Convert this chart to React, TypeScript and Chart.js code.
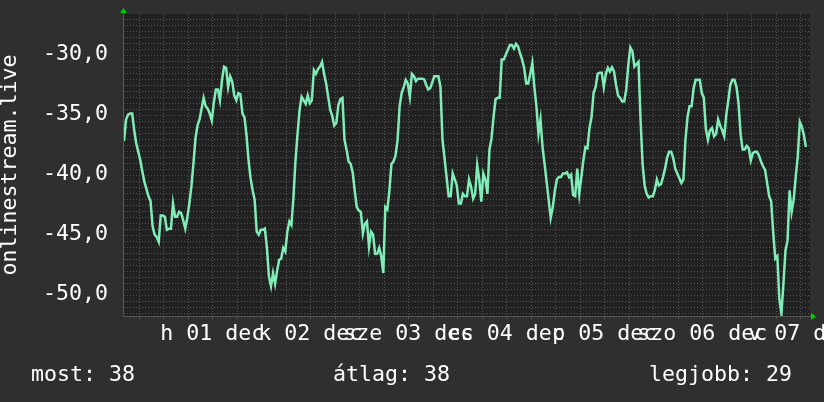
import React, { useEffect, useRef } from 'react';
import { Chart, registerables } from 'chart.js';

Chart.register(...registerables);

// ---- data ----
const SERIES_NAME = 'onlinestream.live';
const SPAN_HOURS = 168; // 7 days shown
const STEP_HOURS = 0.5; // sampling step of the values
const HOURS_TO_FIRST_MIDNIGHT = 9.6; // from left edge to 00:00 of 01 dec
const Y_MIN = -51.78;
const Y_MAX = -26.61;

const dayLabels = ['h 01 dec', 'k 02 dec', 'sze 03 dec', 'cs 04 dec', 'p 05 dec', 'szo 06 dec', 'v 07 dec'];

const legendTexts = ['most: 38', 'átlag: 38', 'legjobb: 29'];

// half-hourly values
const day1 = [
  -37.2, -35.4, -35.0, -34.9, -34.9, -36.3, -37.4, -38.1, -38.8, -39.75, -40.6, -41.2,
  -41.8, -42.2, -44.3, -45.0, -45.2, -45.6, -43.4, -43.4, -43.5, -44.6, -44.5, -44.5,
  -42.4, -43.5, -43.5, -43.1, -43.2, -43.8, -44.5, -43.6, -42.4, -41.0, -39.1, -37.0,
  -35.9, -35.4, -34.5, -33.6, -34.3, -34.5, -34.9, -35.5, -34.0, -32.9, -32.9, -33.8,
];
const day2 = [
  -32.1, -31.0, -31.1, -32.7, -31.8, -32.25, -33.4, -33.8, -33.2, -33.3, -34.9, -35.2,
  -36.7, -38.8, -40.3, -41.3, -42.1, -44.75, -45.0, -44.6, -44.6, -44.5, -46.1, -48.5,
  -49.3, -48.2, -49.1, -48.0, -47.1, -47.0, -46.1, -46.4, -44.75, -43.9, -44.2, -41.9,
  -38.8, -36.6, -34.6, -33.5, -33.8, -34.1, -33.4, -34.05, -33.8, -31.3, -31.6, -31.2,
];
const day3 = [
  -31.0, -30.6, -31.6, -32.4, -33.5, -34.6, -35.1, -35.9, -35.7, -34.2, -33.7, -33.6,
  -37.1, -37.9, -38.9, -39.1, -39.8, -41.3, -42.7, -43.0, -43.1, -44.9, -44.1, -43.9,
  -46.0, -44.75, -45.0, -46.6, -46.6, -46.1, -46.8, -48.2, -42.7, -42.9, -41.3, -39.1,
  -38.9, -38.4, -37.1, -34.3, -33.2, -32.7, -32.1, -32.4, -33.5, -31.6, -31.8, -32.2,
];
const day4 = [
  -32.0, -32.0, -32.0, -32.05, -32.5, -32.9, -32.8, -32.3, -31.8, -31.8, -31.8, -32.7,
  -37.1, -38.6, -40.2, -41.8, -41.8, -39.9, -40.4, -40.9, -42.4, -42.4, -41.6, -41.8,
  -41.8, -40.4, -41.0, -42.0, -41.6, -39.2, -40.4, -42.25, -39.9, -40.4, -41.6, -37.9,
  -37.0, -35.2, -33.7, -33.6, -33.6, -30.4, -30.4, -30.0, -29.6, -29.2, -29.2, -29.5,
];
const day5 = [
  -29.1, -29.3, -29.9, -30.4, -31.1, -32.4, -32.4, -31.6, -30.7, -32.7, -34.3, -36.6,
  -35.4, -37.7, -39.1, -40.6, -42.1, -43.6, -42.7, -41.4, -40.4, -40.2, -40.2, -39.9,
  -39.9, -39.8, -40.2, -40.0, -41.7, -41.8, -39.5, -41.6, -40.2, -38.8, -37.7, -37.8,
  -36.1, -35.2, -33.2, -32.7, -31.6, -31.5, -31.5, -32.7, -31.6, -31.1, -31.4, -31.05,
];
const day6 = [
  -31.4, -32.5, -33.4, -33.6, -33.9, -33.9, -32.9, -30.9, -29.4, -29.7, -31.0, -30.8,
  -30.6, -35.4, -39.1, -40.9, -41.6, -41.9, -41.8, -41.8, -41.3, -40.4, -40.9, -40.8,
  -40.2, -39.5, -38.6, -38.1, -38.1, -38.6, -39.5, -39.9, -40.3, -40.7, -40.4, -37.1,
  -35.2, -34.3, -34.3, -32.8, -32.1, -32.1, -32.1, -33.2, -33.6, -36.2, -37.1, -36.3,
];
const day7 = [
  -36.1, -36.8, -36.6, -35.4, -35.9, -36.3, -36.8, -35.0, -33.8, -32.5, -32.1, -32.1,
  -32.7, -34.05, -36.6, -37.9, -37.9, -37.6, -37.8, -38.8, -38.2, -38.1, -38.1, -38.4,
  -38.9, -39.3, -39.6, -40.7, -41.8, -42.25, -44.9, -47.0, -46.8, -50.4, -51.6, -49.05,
  -46.3, -45.5, -41.3, -43.1, -42.1, -40.2, -38.5, -35.6, -36.0, -36.7, -37.7,
];

const values = [...day1, ...day2, ...day3, ...day4, ...day5, ...day6, ...day7];

// ---- style ----
const FONT = '"DejaVu Sans Mono", monospace';
const FONT_SIZE = 21.6;
const PAGE_BG = '#2f2f2f';
const PLOT_BG = '#212121';
const MINOR_GRID = '#555555';
const MAJOR_GRID = '#8a3434';
const LINE_COLOR = '#80ecb8';
const TEXT_COLOR = '#ffffff';
const ARROW_COLOR = '#00cc00';

const isMajorY = (v: number) => Math.abs(v / 5 - Math.round(v / 5)) < 1e-6;

const rrdPlugin = {
  id: 'rrdLook',
  beforeDraw(chart: any) {
    const { ctx, chartArea: a, width, height } = chart;
    const xs = chart.scales.x;
    const ys = chart.scales.y;
    ctx.save();
    ctx.fillStyle = PAGE_BG;
    ctx.fillRect(0, 0, width, height);
    ctx.fillStyle = PLOT_BG;
    ctx.fillRect(a.left, a.top, a.right - a.left, a.bottom - a.top);

    const hLine = (y: number, color: string) => {
      ctx.strokeStyle = color;
      ctx.beginPath();
      ctx.moveTo(a.left, y);
      ctx.lineTo(a.right, y);
      ctx.stroke();
    };
    const vLine = (x: number, color: string) => {
      ctx.strokeStyle = color;
      ctx.beginPath();
      ctx.moveTo(x, a.top);
      ctx.lineTo(x, a.bottom);
      ctx.stroke();
    };

    ctx.lineWidth = 1;
    ctx.setLineDash([1, 2]);
    const start = Math.ceil(Y_MIN * 2) / 2;
    // minor horizontal grid every 0.5
    for (let v = start; v <= Y_MAX; v += 0.5) {
      if (isMajorY(v)) continue;
      hLine(Math.round(ys.getPixelForValue(v)) + 0.5, MINOR_GRID);
    }
    // minor vertical grid every 6 hours
    for (let h = HOURS_TO_FIRST_MIDNIGHT - 6; h < SPAN_HOURS; h += 6) {
      if (h < 0) continue;
      const k = Math.round((h - HOURS_TO_FIRST_MIDNIGHT) / 6);
      if (k % 4 === 0) continue;
      vLine(Math.round(xs.getPixelForValue(h)) + 0.5, MINOR_GRID);
    }
    // major lines
    for (let v = start; v <= Y_MAX; v += 0.5) {
      if (!isMajorY(v)) continue;
      hLine(Math.round(ys.getPixelForValue(v)) + 0.5, MAJOR_GRID);
    }
    for (let h = HOURS_TO_FIRST_MIDNIGHT; h < SPAN_HOURS; h += 24) {
      vLine(Math.round(xs.getPixelForValue(h)) + 0.5, MAJOR_GRID);
    }

    // tick marks below the axis
    ctx.setLineDash([]);
    for (let h = HOURS_TO_FIRST_MIDNIGHT - 6; h < SPAN_HOURS; h += 6) {
      if (h < 0) continue;
      const k = Math.round((h - HOURS_TO_FIRST_MIDNIGHT) / 6);
      const x = Math.round(xs.getPixelForValue(h)) + 0.5;
      ctx.strokeStyle = k % 4 === 0 ? MAJOR_GRID : MINOR_GRID;
      ctx.beginPath();
      ctx.moveTo(x, a.bottom);
      ctx.lineTo(x, a.bottom + 3);
      ctx.stroke();
    }
    ctx.restore();
  },
  afterDraw(chart: any) {
    const { ctx, chartArea: a } = chart;
    const xs = chart.scales.x;
    ctx.save();
    // axes
    ctx.strokeStyle = '#555555';
    ctx.lineWidth = 1;
    ctx.beginPath();
    ctx.moveTo(a.left - 0.5, a.top - 2);
    ctx.lineTo(a.left - 0.5, a.bottom + 0.5);
    ctx.lineTo(a.right + 2, a.bottom + 0.5);
    ctx.stroke();
    // arrows
    ctx.fillStyle = ARROW_COLOR;
    ctx.beginPath();
    ctx.moveTo(a.left - 4, a.top - 1);
    ctx.lineTo(a.left + 3, a.top - 1);
    ctx.lineTo(a.left - 0.5, a.top - 6);
    ctx.closePath();
    ctx.fill();
    ctx.beginPath();
    ctx.moveTo(a.right + 1, a.bottom - 3);
    ctx.lineTo(a.right + 1, a.bottom + 4);
    ctx.lineTo(a.right + 6, a.bottom + 0.5);
    ctx.closePath();
    ctx.fill();

    // x labels, centred on noon of each day
    ctx.font = `${FONT_SIZE}px ${FONT}`;
    ctx.fillStyle = TEXT_COLOR;
    ctx.textAlign = 'center';
    ctx.textBaseline = 'alphabetic';
    dayLabels.forEach((lab, i) => {
      const x = xs.getPixelForValue(HOURS_TO_FIRST_MIDNIGHT + 12 + 24 * i);
      ctx.fillText(lab, x, 339.5);
    });

    // legend line
    ctx.textAlign = 'left';
    const legendX = [31, 333, 649];
    legendTexts.forEach((t, i) => ctx.fillText(t, legendX[i], 381));
    ctx.restore();
  },
};

export default function App() {
  const ref = useRef<HTMLCanvasElement | null>(null);
  useEffect(() => {
    if (!ref.current) return;
    const chart = new Chart(ref.current, {
      type: 'line',
      data: {
        datasets: [
          {
            label: SERIES_NAME,
            data: values.map((v, i) => ({ x: i * STEP_HOURS, y: v })),
            borderColor: LINE_COLOR,
            borderWidth: 2.5,
            pointRadius: 0,
            tension: 0,
            fill: false,
          },
        ],
      },
      options: {
        responsive: false,
        animation: false,
        devicePixelRatio: 1,
        layout: { padding: { top: 14, right: 14, bottom: 86, left: 0 } },
        plugins: { legend: { display: false }, tooltip: { enabled: false } },
        scales: {
          x: { type: 'linear', min: 0, max: SPAN_HOURS, display: false },
          y: {
            type: 'linear',
            min: Y_MIN,
            max: Y_MAX,
            grid: { display: false, drawTicks: false },
            border: { display: false },
            ticks: {
              stepSize: 5,
              includeBounds: false,
              autoSkip: false,
              padding: 16,
              color: TEXT_COLOR,
              font: { family: FONT, size: FONT_SIZE },
              callback: (v: any) => Number(v).toFixed(1).replace('.', ','),
            },
            title: {
              display: true,
              text: SERIES_NAME,
              color: TEXT_COLOR,
              font: { family: FONT, size: FONT_SIZE, lineHeight: 1 },
              padding: 0,
            },
            afterFit: (s: any) => {
              s.width = 124;
              s.paddingTop = 0;
              s.paddingBottom = 0;
            },
          },
        },
      } as any,
      plugins: [rrdPlugin],
    });
    return () => chart.destroy();
  }, []);
  return (
    <div style={{ position: 'fixed', left: 0, top: 0, width: 824, height: 402 }}>
      <canvas ref={ref} width={824} height={402} style={{ display: 'block' }} />
    </div>
  );
}
